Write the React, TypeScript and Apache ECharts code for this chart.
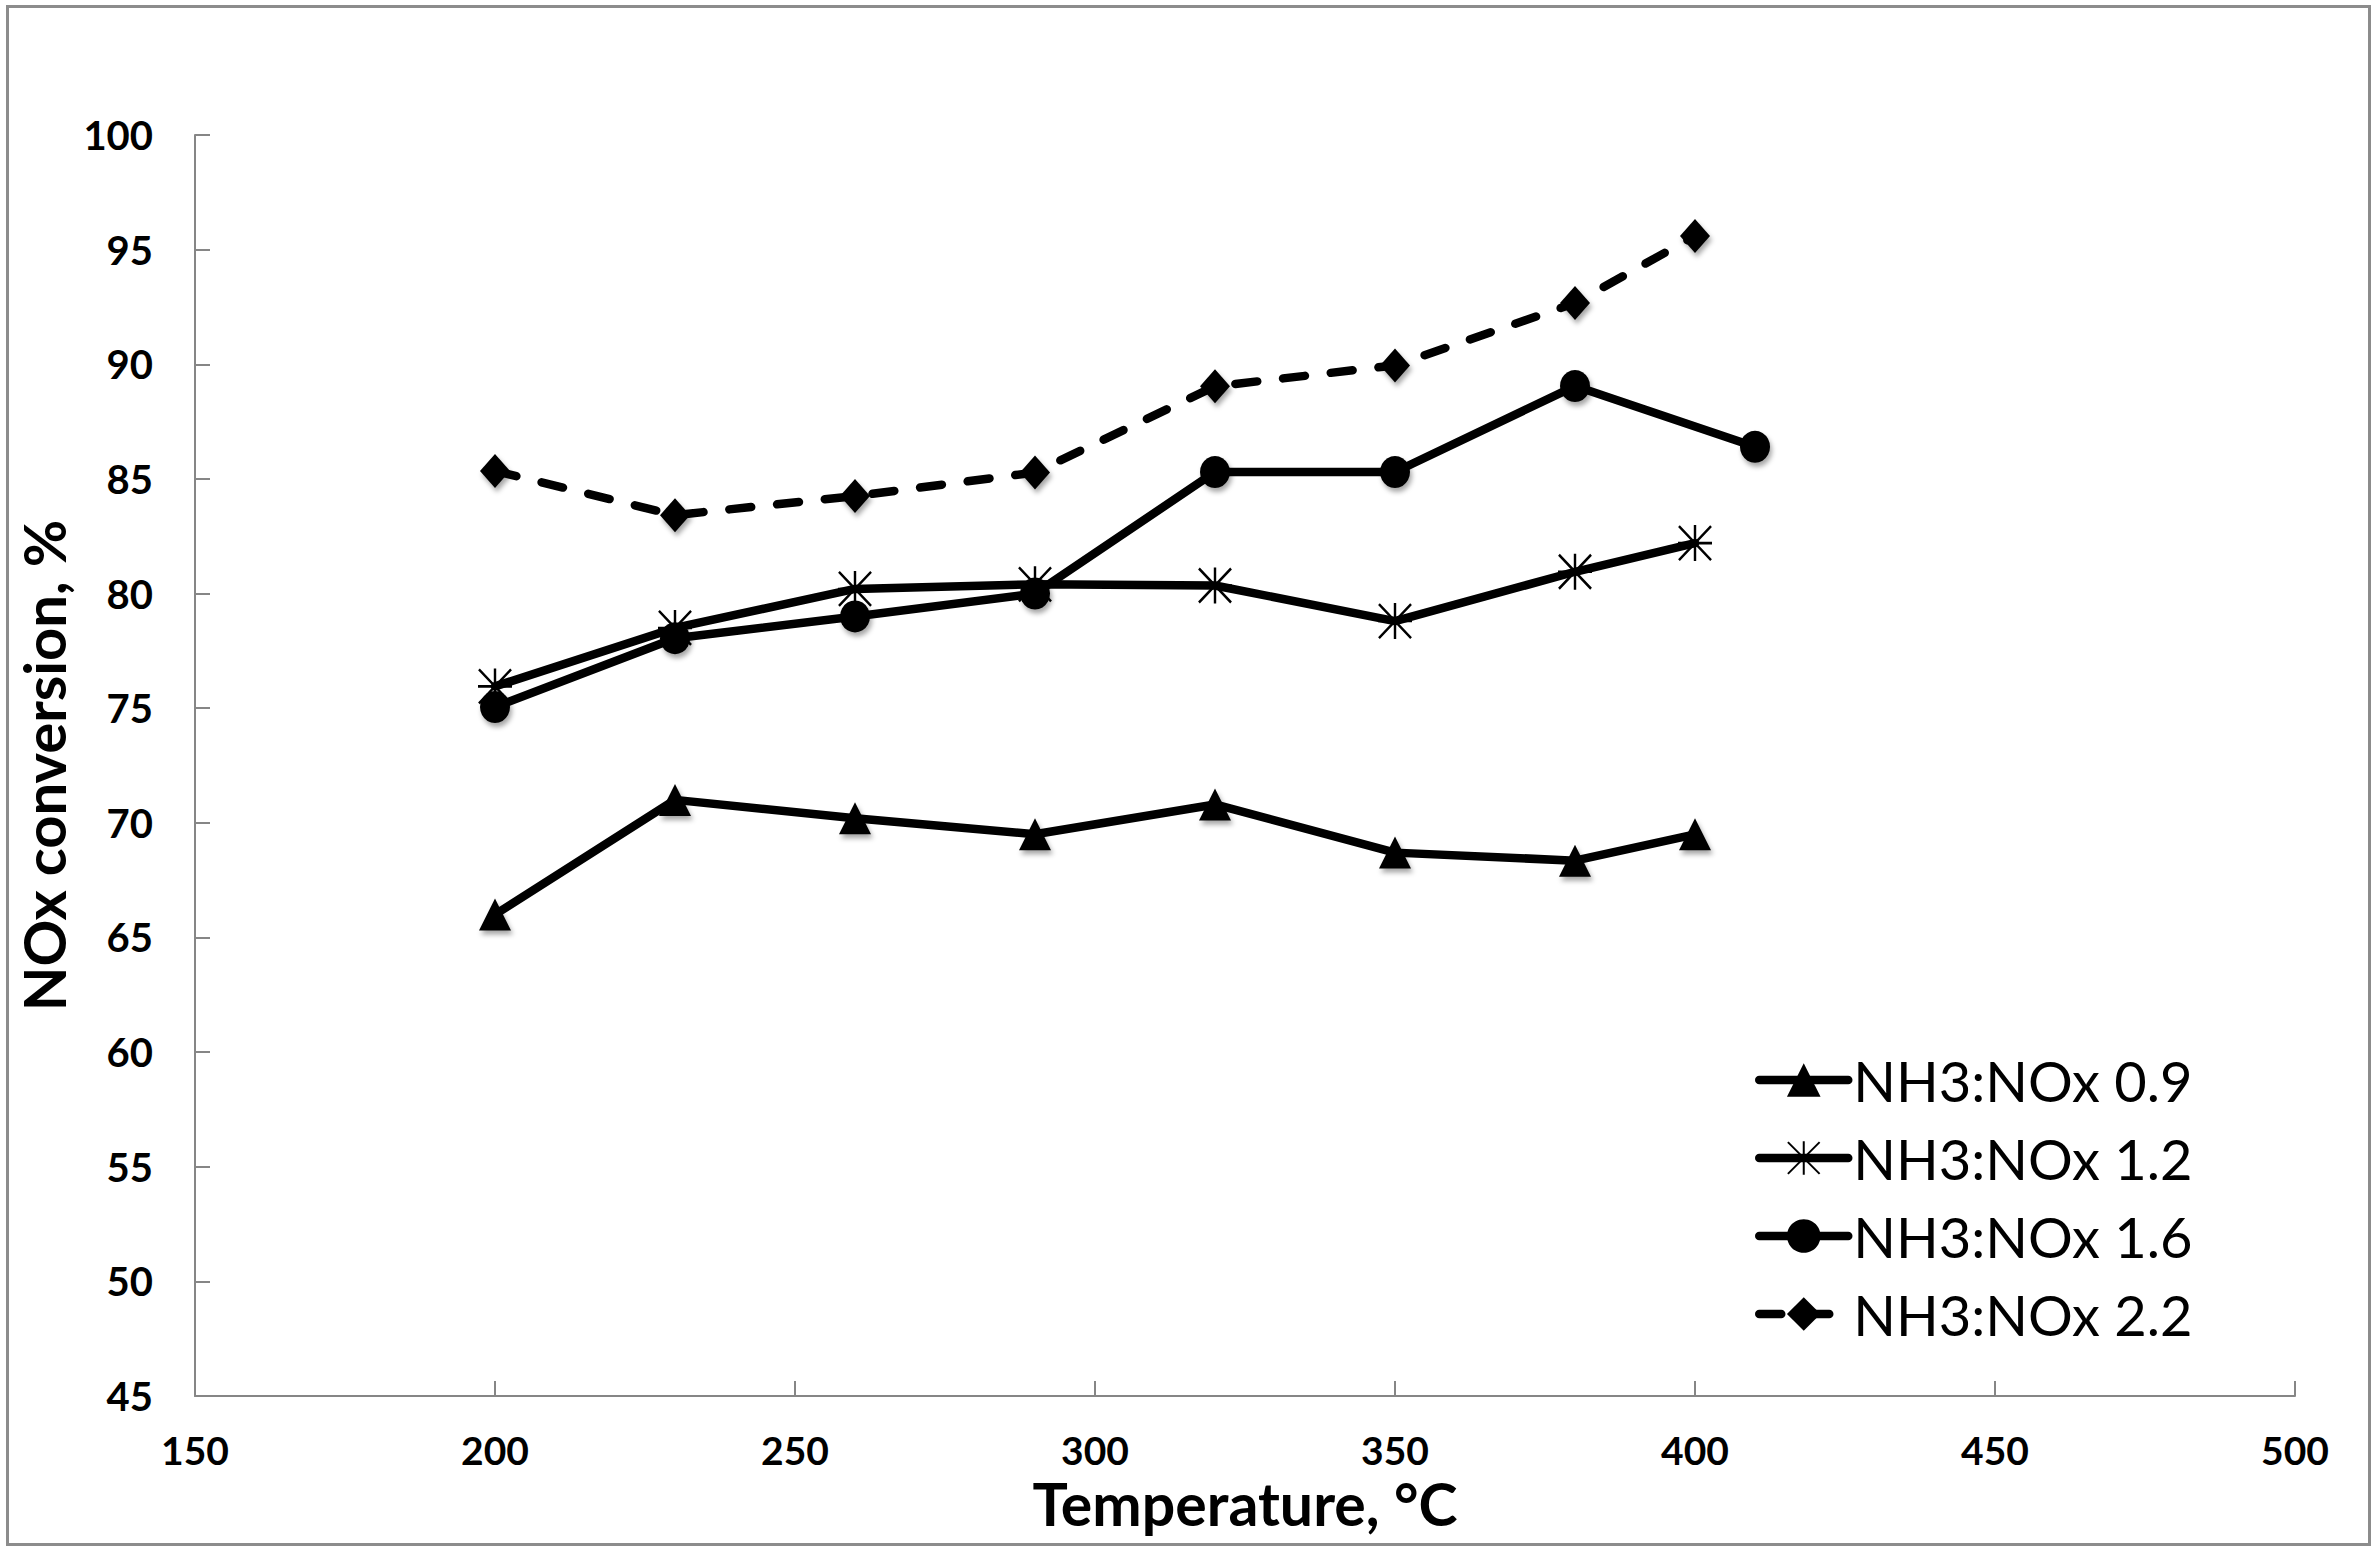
import React, { useEffect, useRef } from "react";
import * as echarts from "echarts";

const temps = [200, 230, 260, 290, 320, 350, 380, 400];
const temps16 = [200, 230, 260, 290, 320, 350, 380, 410];
const conv09 = [66.0, 71.0, 70.2, 69.5, 70.8, 68.7, 68.35, 69.5];
const conv12 = [75.95, 78.5, 80.2, 80.4, 80.35, 78.8, 80.95, 82.2];
const conv16 = [75.05, 78.05, 79.0, 80.0, 85.3, 85.3, 89.05, 86.4];
const conv22 = [85.35, 83.42, 84.25, 85.28, 89.04, 89.95, 92.67, 95.6];
const seriesNames = ["NH3:NOx 0.9", "NH3:NOx 1.2", "NH3:NOx 1.6", "NH3:NOx 2.2"];
const xTicks = { min: 150, max: 500, interval: 50 };
const yTicks = { min: 45, max: 100, interval: 5 };

const STAR = "path://M18 0 L18 36 M1 1 L35 35 M35 1 L1 35 M0 18 L36 18";
const FONT = "Lato";
const AXIS_GRAY = "#868686";
const LINE_W = 8.5;

const pairs = (xs: number[], ys: number[]) => xs.map((x, i) => [x, ys[i]]);

const markerShadow = {
  shadowColor: "rgba(0,0,0,0.35)",
  shadowBlur: 5,
  shadowOffsetX: 2,
  shadowOffsetY: 4,
};

export default function App() {
  const ref = useRef<HTMLDivElement>(null);
  useEffect(() => {
    document.body.style.margin = "0";
    if (!ref.current) return;
    const chart = echarts.init(ref.current, null, { renderer: "svg" });
    const lineBase = (dashed: boolean) => ({
      color: "#000",
      width: LINE_W,
      type: dashed ? [22, 26] : "solid",
      cap: "round",
      join: "round",
    });
    chart.setOption({
      animation: false,
      backgroundColor: "#fff",
      textStyle: { fontFamily: FONT },
      grid: { left: 195, right: 76, top: 135, bottom: 156, containLabel: false },
      xAxis: {
        type: "value",
        min: xTicks.min,
        max: xTicks.max,
        interval: xTicks.interval,
        name: "Temperature, °C",
        nameLocation: "middle",
        nameGap: 78,
        nameTextStyle: { fontFamily: FONT, fontWeight: "bold", fontSize: 59, color: "#000" },
        axisLine: { lineStyle: { color: AXIS_GRAY, width: 2 } },
        axisTick: { inside: true, length: 15, lineStyle: { color: AXIS_GRAY, width: 2 } },
        axisLabel: { margin: 34, fontFamily: FONT, fontWeight: "bold", fontSize: 39, color: "#000" },
        splitLine: { show: false },
      },
      yAxis: {
        type: "value",
        min: yTicks.min,
        max: yTicks.max,
        interval: yTicks.interval,
        name: "NOx conversion, %",
        nameLocation: "middle",
        nameRotate: 90,
        nameGap: 110,
        nameTextStyle: { fontFamily: FONT, fontWeight: "bold", fontSize: 58, color: "#000" },
        axisLine: { show: true, lineStyle: { color: AXIS_GRAY, width: 2 } },
        axisTick: { show: true, inside: true, length: 15, lineStyle: { color: AXIS_GRAY, width: 2 } },
        axisLabel: { margin: 42, fontFamily: FONT, fontWeight: "bold", fontSize: 40, color: "#000" },
        splitLine: { show: false },
      },
      legend: {
        orient: "vertical",
        left: 1750,
        top: 1047,
        itemWidth: 89,
        itemHeight: 42,
        itemGap: 22,
        align: "left",
        lineStyle: { width: LINE_W, cap: "round" },
        textStyle: { fontFamily: FONT, fontSize: 56, color: "#000" },
        data: seriesNames,
      },
      series: [
        {
          name: seriesNames[0],
          type: "line",
          data: pairs(temps, conv09),
          symbol: "triangle",
          symbolSize: [32, 32],
          itemStyle: { color: "#000", ...markerShadow },
          lineStyle: lineBase(false),
          z: 3,
        },
        {
          name: seriesNames[1],
          type: "line",
          data: pairs(temps, conv12),
          symbol: STAR,
          symbolSize: [34, 36],
          itemStyle: { color: "none", borderColor: "#000", borderWidth: 2.5 },
          lineStyle: lineBase(false),
          z: 3,
        },
        {
          name: seriesNames[2],
          type: "line",
          data: pairs(temps16, conv16),
          symbol: "circle",
          symbolSize: [30, 32],
          itemStyle: { color: "#000", ...markerShadow },
          lineStyle: lineBase(false),
          z: 3,
        },
        {
          name: seriesNames[3],
          type: "line",
          data: pairs(temps, conv22),
          symbol: "diamond",
          symbolSize: [30, 34],
          itemStyle: { color: "#000", ...markerShadow },
          lineStyle: lineBase(true),
          z: 3,
        },
      ],
      graphic: [
        {
          type: "rect",
          left: 5,
          top: 4,
          shape: { x: 0, y: 0, width: 2362, height: 1538 },
          style: { fill: "none", stroke: "#8c8c8c", lineWidth: 3 },
          silent: true,
          z: 0,
        },
      ],
    });
    return () => chart.dispose();
  }, []);
  return <div ref={ref} style={{ width: 2371, height: 1552, display: "block" }} />;
}
